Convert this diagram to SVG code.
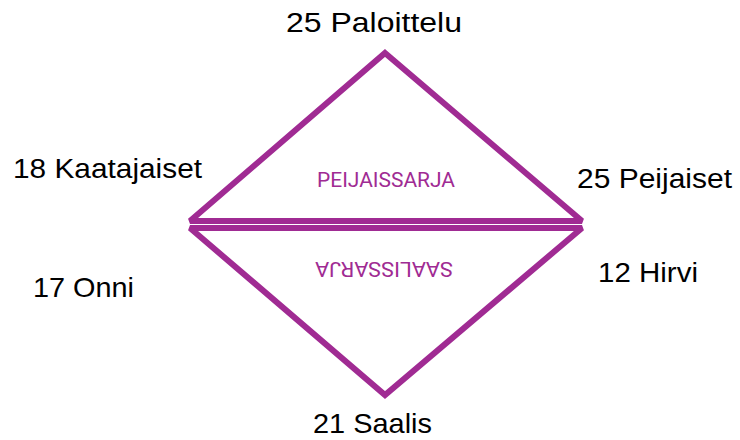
<svg xmlns="http://www.w3.org/2000/svg" width="740" height="440" viewBox="0 0 740 440">
<style>
.tri{fill:none;stroke:#A02B93;stroke-width:6;stroke-linejoin:miter;stroke-miterlimit:2}
.lbl{font-family:"Liberation Sans",Arial,sans-serif;font-size:27.5px;fill:#000}
.in{font-family:Roboto,"Liberation Sans",sans-serif;font-size:20.5px;fill:#A02B93;text-anchor:middle}
</style>
<rect width="740" height="440" fill="#fff"/>
<g id="connectors">
<g id="upper-triangle"><polygon class="tri" points="385,53 582,221 190,221"/></g>
<g id="lower-triangle"><polygon class="tri" points="190,228 582,228 385,395"/></g>
</g>
<g id="peijaissarja"><text class="in" x="386" y="187" textLength="138" lengthAdjust="spacingAndGlyphs">PEIJAISSARJA</text></g>
<g id="saalissarja"><text class="in" x="384" y="262" textLength="138" lengthAdjust="spacingAndGlyphs" transform="rotate(180 384 262)">SAALISSARJA</text></g>
<g id="n-paloittelu"><text class="lbl" x="286" y="32" textLength="176" lengthAdjust="spacingAndGlyphs">25 Paloittelu</text></g>
<g id="n-kaatajaiset"><text class="lbl" x="13" y="178" textLength="189" lengthAdjust="spacingAndGlyphs">18 Kaatajaiset</text></g>
<g id="n-peijaiset"><text class="lbl" x="577" y="188" textLength="155" lengthAdjust="spacingAndGlyphs">25 Peijaiset</text></g>
<g id="n-onni"><text class="lbl" x="33" y="297" textLength="101" lengthAdjust="spacingAndGlyphs">17 Onni</text></g>
<g id="n-hirvi"><text class="lbl" x="598" y="282" textLength="100" lengthAdjust="spacingAndGlyphs">12 Hirvi</text></g>
<g id="n-saalis"><text class="lbl" x="313" y="433" textLength="119" lengthAdjust="spacingAndGlyphs">21 Saalis</text></g>
</svg>
